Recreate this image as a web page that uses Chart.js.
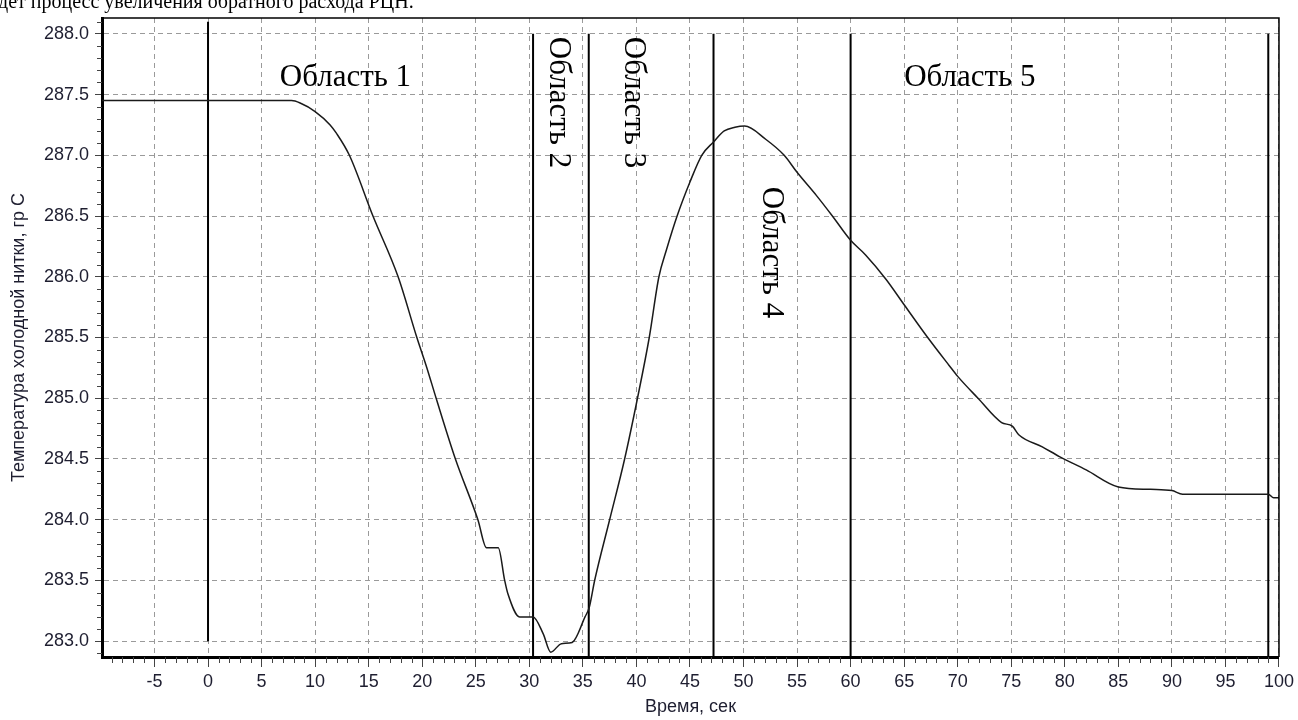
<!DOCTYPE html>
<html>
<head>
<meta charset="utf-8">
<script src="https://cdn.jsdelivr.net/npm/chart.js@4.4.0/dist/chart.umd.min.js"></script>
<style>
  html, body { margin: 0; padding: 0; background: #fff; }
  #wrap { width: 1298px; height: 720px; position: relative; }
</style>
</head>
<body>
<div id="wrap"><canvas id="tempChart" width="1298" height="720"></canvas></div>
<script>
// Time, s
const time = [-9.9, 7.8, 8.6, 10.0, 11.4, 12.0, 13.2, 15.4, 17.75, 19.5, 20.4, 21.3, 23.1, 25.2, 26.0, 27.1, 27.7, 28.0, 29.1, 30.35,
    31.3, 32.0, 33.0, 34.0, 35.2, 35.6, 36.1, 37.5, 38.9, 40.1, 41.2, 42.1, 42.8, 43.8, 45.0, 46.1, 47.2, 48.2, 49.2, 50.1,
    52.1, 53.8, 55.0, 56.8, 58.3, 60.0, 61.4, 63.3, 65.0, 67.2, 69.2, 70.0, 71.9, 74.1, 75.1, 75.7, 77.9, 79.5, 82.0, 85.0,
    88.0, 90.0, 91.0, 99.0, 99.5, 100];
// Cold leg temperature, deg C
const temperature = [287.45, 287.45, 287.43, 287.36, 287.25, 287.18, 287.0, 286.5, 286.0, 285.5, 285.26, 285.0, 284.5, 284.0, 283.77, 283.77, 283.5, 283.39, 283.2, 283.2,
    283.06, 282.91, 282.98, 282.99, 283.2, 283.28, 283.5, 284.0, 284.5, 285.0, 285.5, 286.0, 286.22, 286.5, 286.78, 287.0, 287.11, 287.2, 287.23, 287.24,
    287.13, 287.0, 286.86, 286.67, 286.5, 286.3, 286.18, 285.98, 285.77, 285.5, 285.27, 285.18, 285.0, 284.8, 284.77, 284.7, 284.6, 284.52, 284.41, 284.27,
    284.25, 284.24, 284.21, 284.21, 284.18, 284.18];

// Region boundaries (vertical lines)
const boundaryX = [0, 30.35, 35.55, 47.2, 60, 99];
const boundaryTop = [288.1, 288.0, 288.0, 288.0, 288.0, 288.0];
const boundaryBottom = [283.0, 282.87, 282.87, 282.87, 282.87, 282.87];

const regionNames = ["Область 1", "Область 2", "Область 3", "Область 4", "Область 5"];

const X_MIN = -9.9, X_MAX = 100;
const Y_MIN = 282.87, Y_MAX = 288.13;

// where the region captions sit (data coords)
const regionLabels = [
    { x: 6.7, y: 287.57, vertical: false },
    { x: 32.65, y: 287.975, vertical: true },
    { x: 39.65, y: 287.975, vertical: true },
    { x: 52.6, y: 286.74, vertical: true },
    { x: 65.0, y: 287.57, vertical: false },
];

const datasets = [{
    data: time.map((t, i) => ({ x: t, y: temperature[i] })),
    borderColor: "#1a1a1a",
    borderWidth: 1.5,
    pointRadius: 0,
    cubicInterpolationMode: "monotone",
}];
boundaryX.forEach((bx, i) => {
    datasets.push({
        data: [{ x: bx, y: boundaryTop[i] }, { x: bx, y: boundaryBottom[i] }],
        borderColor: "#000",
        borderWidth: 2,
        pointRadius: 0,
    });
});

const decor = {
    id: "decor",
    beforeDraw(chart) {
        const ctx = chart.ctx;
        ctx.save();
        ctx.fillStyle = "#fff";
        ctx.fillRect(0, 0, chart.width, chart.height);
        // tail of the document sentence cut off above the figure
        ctx.fillStyle = "#000";
        ctx.font = '20px "Liberation Serif", "Times New Roman", serif';
        ctx.textBaseline = "alphabetic";
        ctx.fillText("дет процесс увеличения обратного расхода РЦН.", -2, 8);
        ctx.restore();
    },
    afterDraw(chart) {
        const { ctx, chartArea: a, scales: { x, y } } = chart;
        ctx.save();
        // top and right frame
        ctx.strokeStyle = "#000";
        ctx.lineWidth = 1.5;
        ctx.beginPath();
        ctx.moveTo(a.left, a.top);
        ctx.lineTo(a.right, a.top);
        ctx.lineTo(a.right, a.bottom);
        ctx.stroke();

        // minor ticks
        ctx.lineWidth = 1;
        ctx.strokeStyle = "#444";
        ctx.beginPath();
        for (let t = Math.ceil(x.min); t <= x.max; t++) {
            if (t % 5 === 0) continue;
            const px = Math.round(x.getPixelForValue(t)) + 0.5;
            ctx.moveTo(px, a.bottom);
            ctx.lineTo(px, a.bottom + 6);
        }
        for (let k = Math.ceil(y.min * 10); k <= y.max * 10; k++) {
            if (k % 5 === 0) continue;
            const py = Math.round(y.getPixelForValue(k / 10)) + 0.5;
            ctx.moveTo(a.left - 5, py);
            ctx.lineTo(a.left, py);
        }
        ctx.stroke();

        // region captions
        ctx.fillStyle = "#000";
        ctx.font = '31px "Liberation Serif", "Times New Roman", serif';
        regionLabels.forEach((r, i) => {
            const px = x.getPixelForValue(r.x);
            const py = y.getPixelForValue(r.y);
            if (r.vertical) {
                ctx.save();
                ctx.translate(px, py);
                ctx.rotate(Math.PI / 2);
                ctx.textAlign = "left";
                ctx.textBaseline = "middle";
                ctx.fillText(regionNames[i], 0, 0);
                ctx.restore();
            } else {
                ctx.textAlign = "left";
                ctx.textBaseline = "alphabetic";
                ctx.fillText(regionNames[i], px, py);
            }
        });
        ctx.restore();
    },
};

const axisFont = { family: "'Liberation Sans', Arial, sans-serif", size: 18 };

new Chart(document.getElementById("tempChart"), {
    type: "line",
    data: { datasets },
    plugins: [decor],
    options: {
        responsive: false,
        animation: false,
        devicePixelRatio: 1,
        layout: { padding: { top: 18, right: 18, left: 0, bottom: 0 } },
        plugins: { legend: { display: false }, tooltip: { enabled: false } },
        scales: {
            x: {
                type: "linear",
                min: X_MIN,
                max: X_MAX,
                afterFit(scale) { scale.height = 63; },
                ticks: {
                    stepSize: 5,
                    includeBounds: false,
                    font: axisFont,
                    color: "#1e1e30",
                    padding: 4,
                    maxRotation: 0,
                    autoSkip: false,
                },
                grid: { color: "#9a9a9a", lineWidth: 1, tickLength: 10, tickColor: "#444", tickWidth: 1 },
                border: { color: "#000", width: 3, dash: [5, 4] },
                title: { display: true, text: "Время, сек", font: axisFont, color: "#1e1e30", padding: { top: 0, bottom: 2 } },
            },
            y: {
                type: "linear",
                min: Y_MIN,
                max: Y_MAX,
                afterFit(scale) { scale.width = 102; },
                ticks: {
                    stepSize: 0.5,
                    includeBounds: false,
                    font: axisFont,
                    color: "#1e1e30",
                    padding: 6,
                    callback: (v) => v.toFixed(1),
                },
                grid: { color: "#9a9a9a", lineWidth: 1, tickLength: 7, tickColor: "#444", tickWidth: 1 },
                border: { color: "#000", width: 3, dash: [5, 4] },
                title: { display: true, text: "Температура холодной нитки, гр С", font: axisFont, color: "#1e1e30", padding: { top: 8, bottom: 0 } },
            },
        },
    },
});
</script>
</body>
</html>
